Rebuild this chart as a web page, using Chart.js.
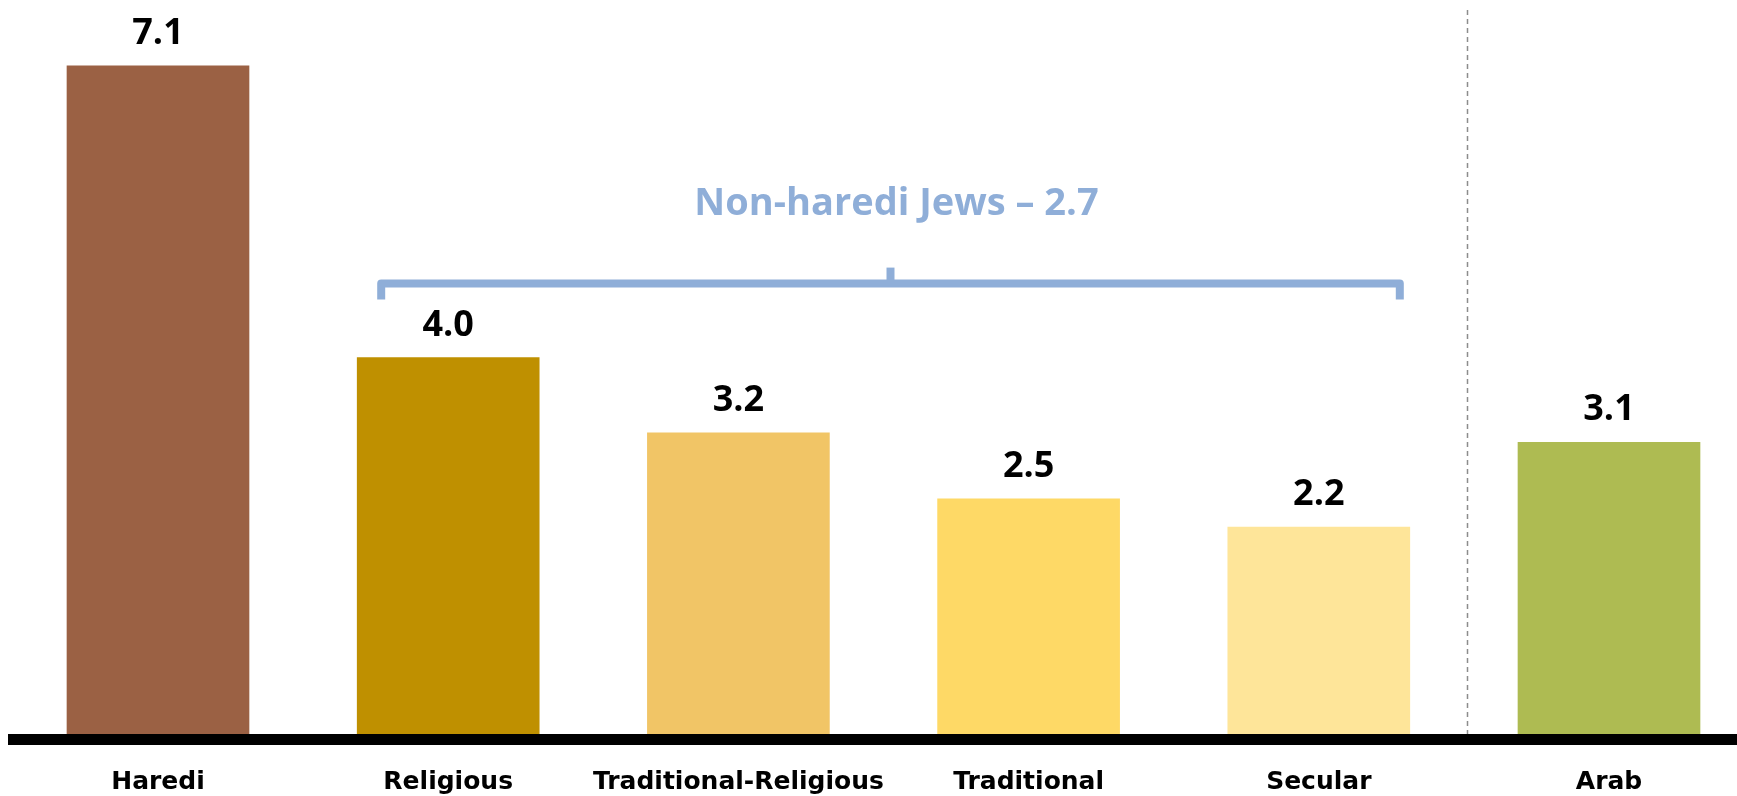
<!DOCTYPE html>
<html>
<head>
<meta charset="utf-8">
<script src="https://cdn.jsdelivr.net/npm/chart.js@4"></script>
<style>
  html, body { margin: 0; padding: 0; background: #fff; }
  #wrap { width: 1737px; height: 796px; position: relative; }
</style>
</head>
<body>
<div id="wrap"><canvas id="groupchart"></canvas></div>
<script>
var categories = ["Haredi", "Religious", "Traditional-Religious", "Traditional", "Secular", "Arab"];
var fertility = [7.1, 4.0, 3.2, 2.5, 2.2, 3.1];
var barColors = ["#9B6144", "#BF9000", "#F1C566", "#FED966", "#FEE599", "#AEBB52"];
// bracket over the non-haredi Jewish groups
var groupName = "Non-haredi Jews";
var groupValue = 2.7;
var groupFirst = 1;
var groupLast = 4;

// number above each bar
var valueLabels = {
  id: "valueLabels",
  afterDatasetsDraw: function (chart) {
    var ctx = chart.ctx;
    var meta = chart.getDatasetMeta(0);
    ctx.save();
    ctx.font = "bold 36px 'Open Sans'";
    ctx.fillStyle = "#000";
    ctx.textAlign = "center";
    ctx.textBaseline = "alphabetic";
    meta.data.forEach(function (bar, i) {
      ctx.fillText(fertility[i].toFixed(1), bar.x, bar.y - 22);
    });
    ctx.restore();
  }
};

// thick base line, dashed divider, bracket + group title
var decorations = {
  id: "decorations",
  afterDraw: function (chart) {
    var ctx = chart.ctx;
    var area = chart.chartArea;
    var xs = chart.scales.x;
    var meta = chart.getDatasetMeta(0);
    ctx.save();

    ctx.fillStyle = "#000";
    ctx.fillRect(8, area.bottom, chart.width - 8, 11);

    var dx = Math.round(xs.getPixelForValue(4.5)) + 3.5;
    ctx.strokeStyle = "#8c8c8c";
    ctx.lineWidth = 1.5;
    ctx.setLineDash([5, 4]);
    ctx.beginPath();
    ctx.moveTo(dx, 10);
    ctx.lineTo(dx, area.bottom);
    ctx.stroke();
    ctx.setLineDash([]);

    var first = meta.data[groupFirst];
    var last = meta.data[groupLast];
    var highest = first.y;
    for (var i = groupFirst; i <= groupLast; i++) {
      highest = Math.min(highest, meta.data[i].y);
    }
    var left = first.x - first.width / 2 + 24;
    var right = last.x + last.width / 2 - 10;
    var by = highest - 74;
    var mid = (left + right) / 2;
    ctx.strokeStyle = "#8FAED8";
    ctx.lineWidth = 8;
    ctx.lineJoin = "round";
    ctx.beginPath();
    ctx.moveTo(left, by + 16);
    ctx.lineTo(left, by);
    ctx.lineTo(right, by);
    ctx.lineTo(right, by + 16);
    ctx.stroke();
    ctx.beginPath();
    ctx.moveTo(mid, by);
    ctx.lineTo(mid, by - 16);
    ctx.stroke();

    ctx.fillStyle = "#8FAED8";
    ctx.font = "bold 38px 'Open Sans'";
    ctx.textAlign = "center";
    ctx.textBaseline = "alphabetic";
    ctx.fillText(groupName + " \u2013 " + groupValue.toFixed(1), mid + 6, by - 69);
    ctx.restore();
  }
};

var ctx = document.getElementById("groupchart").getContext("2d");
var GroupChart = new Chart(ctx, {
  type: "bar",
  data: {
    labels: categories,
    datasets: [{
      data: fertility,
      backgroundColor: barColors,
      borderWidth: 0,
      barThickness: 182,
      clip: false
    }]
  },
  options: {
    responsive: true,
    maintainAspectRatio: false,
    animation: false,
    layout: { padding: { left: 158, right: 128, top: 0, bottom: 0 } },
    plugins: {
      legend: { display: false },
      tooltip: { enabled: false }
    },
    scales: {
      x: {
        offset: false,
        grid: { display: false, drawTicks: false },
        border: { display: false },
        ticks: {
          color: "#000",
          font: { family: "'DejaVu Sans'", weight: "bold", size: 25 },
          padding: 33,
          autoSkip: false,
          maxRotation: 0
        },
        afterFit: function (scale) {
          scale.height = 62;
        }
      },
      y: { display: false, min: 0, max: 7.8 }
    }
  },
  plugins: [valueLabels, decorations]
});
</script>
</body>
</html>
